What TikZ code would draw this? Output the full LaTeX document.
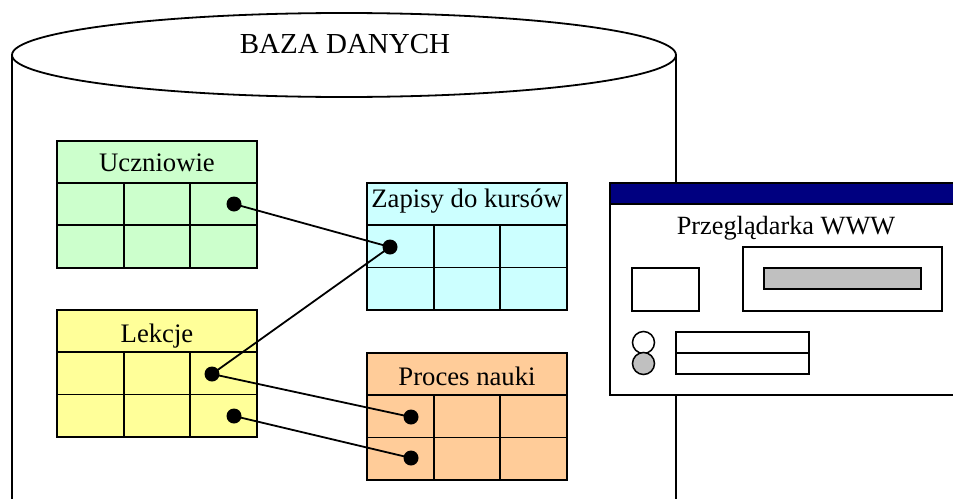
\documentclass[tikz,border=0pt]{standalone}
\usepackage{fontspec}
\setmainfont{Liberation Serif}
\usetikzlibrary{calc}
\definecolor{tgreen}{HTML}{CCFFCC}
\definecolor{tcyan}{HTML}{CCFFFF}
\definecolor{tyellow}{HTML}{FFFF99}
\definecolor{torange}{HTML}{FFCC99}
\definecolor{navyblue}{HTML}{000080}
\definecolor{lgray}{HTML}{C0C0C0}
\tikzset{
  tablebox/.style={draw=black, line width=1.8pt, rectangle, inner sep=0pt, outer sep=0pt, minimum width=200pt, minimum height=127pt},
  tablelabel/.style={inner sep=0pt, font=\fontsize{26.7}{30}\selectfont},
  gridline/.style={draw=black, line width=1.8pt},
  dotnode/.style={circle, fill=black, inner sep=0pt, minimum size=15pt},
  link/.style={draw=black, line width=1.8pt},
  cyl/.style={draw=black, line width=1.8pt},
  frame/.style={draw=black, line width=1.5pt},
}
\newcommand{\dbtable}[6]{%
  \node[tablebox, fill=#4, anchor=north west] (#1) at (#2,#3) {};
  \node[tablelabel, anchor=base] (#1-label) at ({#2+100},{#3+#6}) {#5};
  \draw[gridline] ({#2},{#3+42}) -- ({#2+200},{#3+42})
     ({#2},{#3+84.5}) -- ({#2+200},{#3+84.5})
     ({#2+66.7},{#3+42}) -- ({#2+66.7},{#3+127})
     ({#2+133.3},{#3+42}) -- ({#2+133.3},{#3+127});
}
\begin{document}
\begin{tikzpicture}[x=1pt,y=-1pt]
\useasboundingbox (0,0) rectangle (953,498);
\clip (0,0) rectangle (953,498);
\fill[white] (0,0) rectangle (953,498);
% cylinder
\draw[cyl] (12,55) -- (12,520);
\draw[cyl] (676,55) -- (676,520);
\draw[cyl, fill=white] (344,55) ellipse [x radius=332pt, y radius=42pt];
\node[inner sep=0pt, anchor=base, font=\fontsize{29}{33}\selectfont] (db-label) at (345,53) {BAZA DANYCH};
% tables
\dbtable{ucz}{57}{140.7}{tgreen}{Uczniowie}{31}
\dbtable{zap}{367}{183}{tcyan}{Zapisy do kursów}{24.5}
\dbtable{lek}{57}{310}{tyellow}{Lekcje}{32.5}
\dbtable{pro}{367}{353}{torange}{Proces nauki}{32}
% dots
\node[dotnode] (ucz-d) at (234,204) {};
\node[dotnode] (zap-d) at (390,247) {};
\node[dotnode] (lek-d1) at (212,374) {};
\node[dotnode] (lek-d2) at (234,416) {};
\node[dotnode] (pro-d1) at (411,417) {};
\node[dotnode] (pro-d2) at (411,458) {};
\draw[link] (ucz-d.center) -- (zap-d.center);
\draw[link] (lek-d1.center) -- (zap-d.center);
\draw[link] (lek-d1.center) -- (pro-d1.center);
\draw[link] (lek-d2.center) -- (pro-d2.center);
% browser
\draw[frame, fill=white] (610,183) rectangle (970,395);
\draw[frame, fill=navyblue] (610,183) rectangle (970,204);
\node[inner sep=0pt, anchor=base, font=\fontsize{26.3}{30}\selectfont] (br-label) at (786,234) {Przeglądarka WWW};
\draw[frame] (632,268) rectangle (699,311);
\draw[frame] (743,247) rectangle (942,311);
\draw[frame, fill=lgray] (764,268) rectangle (921,289);
\draw[frame, fill=white] (643.5,342.5) circle[radius=11pt];
\draw[frame, fill=lgray] (643.5,363.5) circle[radius=11pt];
\draw[frame] (676,332) rectangle (809,374);
\draw[frame] (676,353) -- (809,353);
\end{tikzpicture}
\end{document}
